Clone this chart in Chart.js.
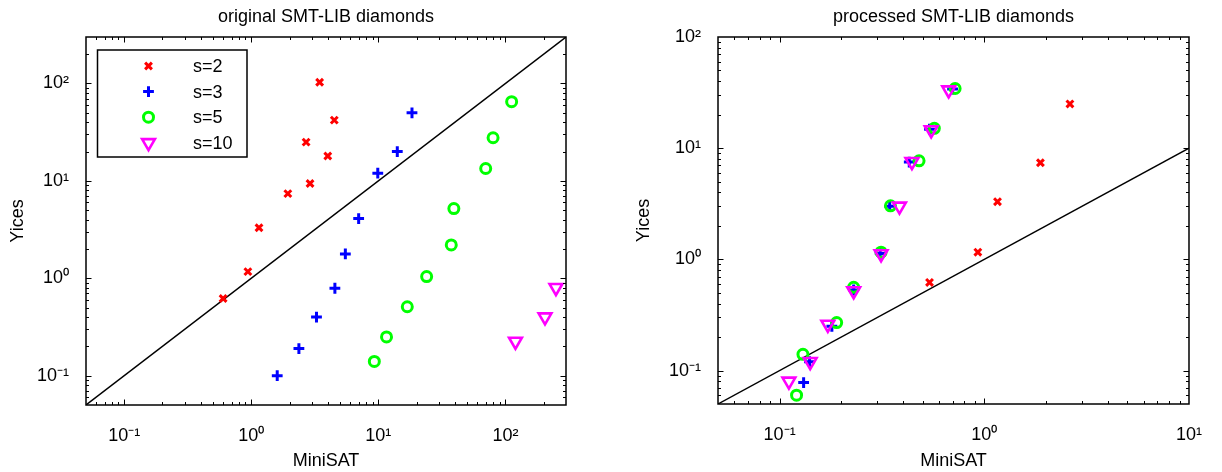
<!DOCTYPE html>
<html>
<head>
<meta charset="utf-8">
<script src="https://cdn.jsdelivr.net/npm/chart.js@4/dist/chart.umd.min.js"></script>
<style>
html,body{margin:0;padding:0;background:#fff;}
#wrap{position:relative;width:1222px;height:472px;overflow:hidden;}
.cell{position:absolute;top:0;width:611px;height:472px;}
canvas{display:block;}
</style>
</head>
<body>
<div id="wrap">
  <div class="cell" style="left:0"><canvas id="c1" width="611" height="472"></canvas></div>
  <div class="cell" style="left:611px"><canvas id="c2" width="611" height="472"></canvas></div>
</div>
<script>
// ---------- data ----------
const seriesNames = ['s=2', 's=3', 's=5', 's=10'];
const titleLeft = 'original SMT-LIB diamonds';
const titleRight = 'processed SMT-LIB diamonds';
const xTitle = 'MiniSAT';
const yTitle = 'Yices';

// left panel (original)
const leftS2X = [0.6, 0.94, 1.15, 1.94, 2.9, 2.7, 4.0, 4.5, 3.45];
const leftS2Y = [0.62, 1.17, 3.3, 7.4, 9.4, 25, 18, 42, 103];
const leftS3X = [1.6, 2.37, 3.26, 4.55, 5.5, 7.0, 9.9, 14.1, 18.4];
const leftS3Y = [0.1, 0.19, 0.4, 0.79, 1.78, 4.1, 12, 20, 50];
const leftS5X = [9.3, 11.6, 16.9, 24, 37.5, 39.3, 70, 80, 112];
const leftS5Y = [0.14, 0.25, 0.51, 1.04, 2.2, 5.2, 13.4, 27.7, 65];
const leftS10X = [120, 205, 250];
const leftS10Y = [0.225, 0.4, 0.8];
const leftRange = [0.05, 300];
const leftXTicks = [0.1, 1, 10, 100];
const leftXTickLabels = ['10⁻¹', '10⁰', '10¹', '10²'];
const leftYTicks = [0.1, 1, 10, 100];
const leftYTickLabels = ['10⁻¹', '10⁰', '10¹', '10²'];

// right panel (processed)
const rightS2X = [0.54, 0.93, 1.16, 1.88, 2.62];
const rightS2Y = [0.62, 1.16, 3.3, 7.4, 25];
const rightS3X = [0.131, 0.14, 0.18, 0.23, 0.31, 0.345, 0.43, 0.54, 0.70];
const rightS3Y = [0.078, 0.12, 0.25, 0.53, 1.13, 3.0, 7.5, 14.8, 34];
const rightS5X = [0.121, 0.13, 0.19, 0.23, 0.313, 0.348, 0.48, 0.57, 0.72];
const rightS5Y = [0.06, 0.14, 0.27, 0.56, 1.16, 3.03, 7.7, 15.1, 34.4];
const rightS10X = [0.111, 0.141, 0.172, 0.23, 0.313, 0.385, 0.443, 0.55, 0.67];
const rightS10Y = [0.08, 0.12, 0.26, 0.52, 1.12, 3.0, 7.55, 14.6, 33.3];
const rightXRange = [0.05, 10];
const rightYRange = [0.05, 100];
const rightXTicks = [0.1, 1, 10];
const rightXTickLabels = ['10⁻¹', '10⁰', '10¹'];
const rightYTicks = [0.1, 1, 10, 100];
const rightYTickLabels = ['10⁻¹', '10⁰', '10¹', '10²'];

// ---------- helpers ----------
const FONT = "'Liberation Sans', Arial, Helvetica, sans-serif";
const pts = (xs, ys) => xs.map((v, i) => ({x: v, y: ys[i]}));

const styles = [
  {color: '#ff0000', pointStyle: 'crossRot', radius: 4.8, borderWidth: 3, rotation: 0},
  {color: '#0000ff', pointStyle: 'cross', radius: 5.4, borderWidth: 3, rotation: 0},
  {color: '#00ff00', pointStyle: 'circle', radius: 5, borderWidth: 3, rotation: 0},
  {color: '#ff00ff', pointStyle: 'triangle', radius: 7.4, borderWidth: 2.6, rotation: 180}
];

function seriesDataset(i, data) {
  const s = styles[i];
  return {
    type: 'scatter',
    label: seriesNames[i],
    data: data,
    showLine: false,
    pointStyle: s.pointStyle,
    pointRadius: s.radius,
    pointHoverRadius: s.radius,
    pointBorderWidth: s.borderWidth,
    pointRotation: s.rotation,
    borderColor: s.color,
    pointBorderColor: s.color,
    backgroundColor: 'rgba(0,0,0,0)',
    pointBackgroundColor: 'rgba(0,0,0,0)',
    order: 4 - i,
    clip: false
  };
}

function diagDataset(lo, hi) {
  return {
    type: 'line',
    label: 'diag',
    data: [{x: lo, y: lo}, {x: hi, y: hi}],
    borderColor: '#000',
    borderWidth: 1.4,
    pointRadius: 0,
    fill: false,
    order: 10
  };
}

// box with inward major and minor ticks on all four sides
const framePlugin = {
  id: 'frame',
  afterDatasetsDraw(chart) {
    const {ctx, chartArea: a, scales} = chart;
    const xs = scales.x, ys = scales.y;
    const vals = (s) => {
      const out = [];
      for (let e = -3; e <= 3; e++) {
        for (let k = 1; k <= 9; k++) {
          const v = k * Math.pow(10, e);
          if (v > s.min * 1.0001 && v < s.max * 0.9999) out.push([v, k === 1]);
        }
      }
      return out;
    };
    ctx.save();
    ctx.strokeStyle = '#000';
    ctx.lineWidth = 1;
    ctx.beginPath();
    for (const [v, maj] of vals(xs)) {
      const p = Math.round(xs.getPixelForValue(v)) + 0.5;
      const L = maj ? 5.5 : 3;
      ctx.moveTo(p, a.bottom); ctx.lineTo(p, a.bottom - L);
      ctx.moveTo(p, a.top); ctx.lineTo(p, a.top + L);
    }
    for (const [v, maj] of vals(ys)) {
      const p = Math.round(ys.getPixelForValue(v)) + 0.5;
      const L = maj ? 5.5 : 3;
      ctx.moveTo(a.left, p); ctx.lineTo(a.left + L, p);
      ctx.moveTo(a.right, p); ctx.lineTo(a.right - L, p);
    }
    ctx.stroke();
    ctx.lineWidth = 1.5;
    ctx.strokeRect(a.left, a.top, a.right - a.left, a.bottom - a.top);
    ctx.restore();
  }
};

// boxed legend inside the left panel
const boxLegendPlugin = {
  id: 'boxLegend',
  afterDraw(chart) {
    const {ctx, chartArea: a} = chart;
    const left = a.left + 11.5, top = a.top + 13, w = 149.5, h = 107;
    ctx.save();
    ctx.fillStyle = '#fff';
    ctx.fillRect(left, top, w, h);
    ctx.strokeStyle = '#000';
    ctx.lineWidth = 1.5;
    ctx.strokeRect(left, top, w, h);
    ctx.font = '18px ' + FONT;
    ctx.textBaseline = 'middle';
    ctx.textAlign = 'left';
    seriesNames.forEach((name, i) => {
      const s = styles[i];
      const cy = top + 16 + i * 25.6;
      ctx.strokeStyle = s.color;
      ctx.fillStyle = 'rgba(0,0,0,0)';
      ctx.lineWidth = s.borderWidth;
      Chart.helpers.drawPoint(ctx, {pointStyle: s.pointStyle, radius: s.radius, rotation: s.rotation, borderWidth: s.borderWidth}, left + 51, cy);
      ctx.fillStyle = '#000';
      ctx.fillText(name, left + 95.5, cy + 1);
    });
    ctx.restore();
  }
};

function makeChart(canvasId, cfg) {
  return new Chart(document.getElementById(canvasId), {
    type: 'scatter',
    data: {datasets: cfg.datasets},
    options: {
      responsive: false,
      animation: false,
      devicePixelRatio: 1,
      events: [],
      layout: {padding: {left: 0, right: cfg.padRight, top: 0, bottom: 0}},
      plugins: {
        legend: {display: false},
        tooltip: {enabled: false},
        title: {
          display: true,
          text: cfg.title,
          fullSize: false,
          color: '#000',
          font: {family: FONT, size: 18, weight: 'normal'},
          padding: {top: 6, bottom: 9.4}
        }
      },
      scales: {
        x: {
          type: 'logarithmic',
          position: 'bottom',
          min: cfg.xRange[0],
          max: cfg.xRange[1],
          afterBuildTicks: (s) => { s.ticks = cfg.xTicks.map(v => ({value: v})); },
          afterFit: (s) => { s.height = cfg.xAxisH; },
          ticks: {
            autoSkip: false, maxRotation: 0, minRotation: 0,
            padding: 20, color: '#000',
            font: {family: FONT, size: 18},
            callback: (v, i) => cfg.xTickLabels[i]
          },
          grid: {display: false, drawTicks: false},
          border: {display: false},
          title: {
            display: true, text: xTitle, color: '#000',
            font: {family: FONT, size: 18},
            padding: {top: 2, bottom: 0}
          }
        },
        y: {
          type: 'logarithmic',
          position: 'left',
          min: cfg.yRange[0],
          max: cfg.yRange[1],
          afterBuildTicks: (s) => { s.ticks = cfg.yTicks.map(v => ({value: v})); },
          afterFit: (s) => { s.width = cfg.yAxisW; },
          ticks: {
            autoSkip: false,
            padding: 17, color: '#000',
            font: {family: FONT, size: 18},
            callback: (v, i) => cfg.yTickLabels[i]
          },
          grid: {display: false, drawTicks: false},
          border: {display: false},
          title: {
            display: true, text: yTitle, color: '#000',
            font: {family: FONT, size: 18},
            padding: {top: cfg.yTitlePad, bottom: 0}
          }
        }
      }
    },
    plugins: cfg.plugins
  });
}

makeChart('c1', {
  title: titleLeft,
  datasets: [
    diagDataset(leftRange[0], leftRange[1]),
    seriesDataset(0, pts(leftS2X, leftS2Y)),
    seriesDataset(1, pts(leftS3X, leftS3Y)),
    seriesDataset(2, pts(leftS5X, leftS5Y)),
    seriesDataset(3, pts(leftS10X, leftS10Y))
  ],
  xRange: leftRange, yRange: leftRange,
  xTicks: leftXTicks, xTickLabels: leftXTickLabels,
  yTicks: leftYTicks, yTickLabels: leftYTickLabels,
  padRight: 45, xAxisH: 67, yAxisW: 86, yTitlePad: 7,
  plugins: [framePlugin, boxLegendPlugin]
});

makeChart('c2', {
  title: titleRight,
  datasets: [
    diagDataset(rightXRange[0], rightXRange[1]),
    seriesDataset(0, pts(rightS2X, rightS2Y)),
    seriesDataset(1, pts(rightS3X, rightS3Y)),
    seriesDataset(2, pts(rightS5X, rightS5Y)),
    seriesDataset(3, pts(rightS10X, rightS10Y))
  ],
  xRange: rightXRange, yRange: rightYRange,
  xTicks: rightXTicks, xTickLabels: rightXTickLabels,
  yTicks: rightYTicks, yTickLabels: rightYTickLabels,
  padRight: 24, xAxisH: 68, yAxisW: 107, yTitlePad: 22,
  plugins: [framePlugin]
});
</script>
</body>
</html>
